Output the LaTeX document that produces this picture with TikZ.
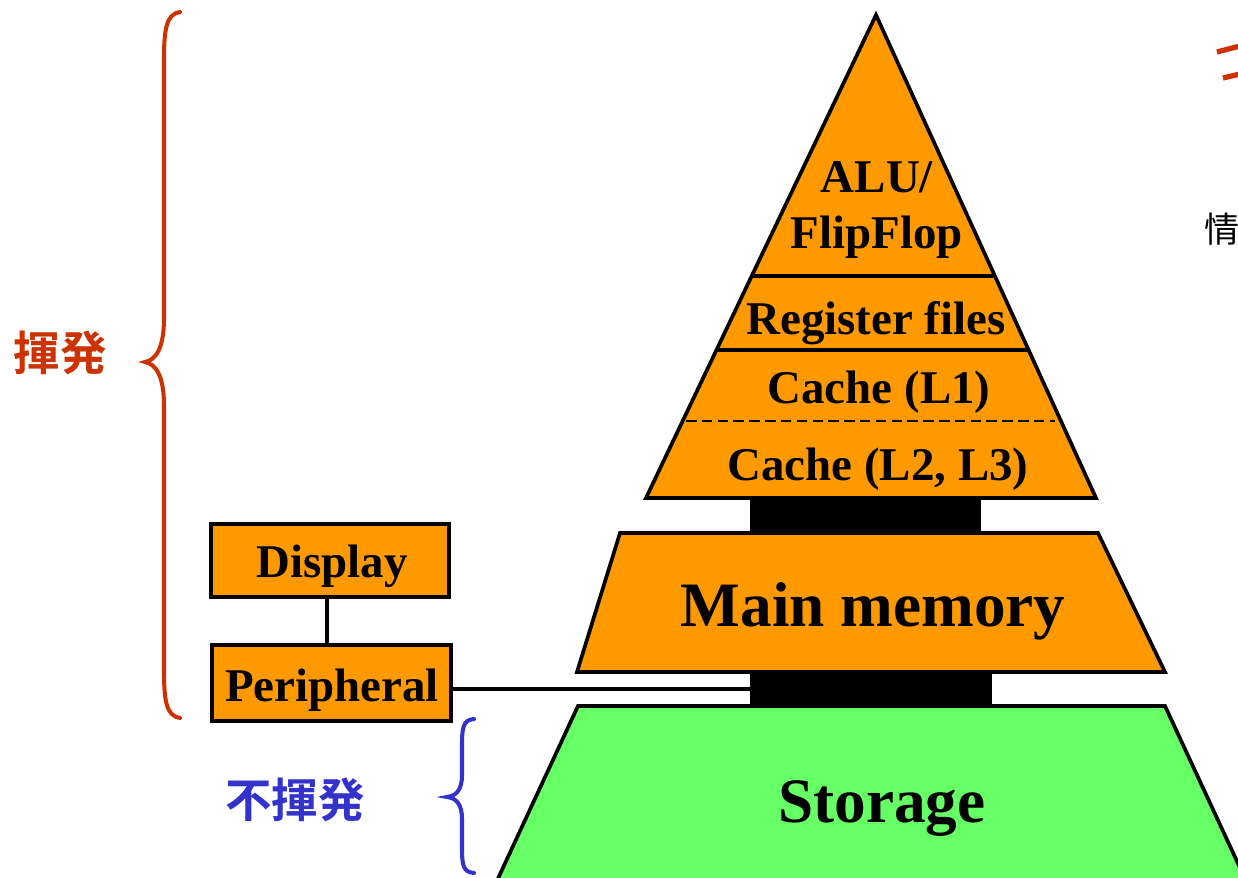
\documentclass[tikz,border=0pt]{standalone}
\usepackage{fontspec}
\setmainfont{Liberation Serif}
\newfontfamily\cjkb{Noto Sans CJK JP}
\newfontfamily\cjkbold{Noto Sans CJK JP Bold}
\definecolor{orng}{RGB}{255,153,0}
\definecolor{grn}{RGB}{102,255,102}
\definecolor{redb}{RGB}{204,51,0}
\definecolor{blub}{RGB}{51,51,204}
\tikzset{
  lay/.style={draw=black, line width=2.1pt, line join=miter},
  lbl/.style={font=\bfseries\fontsize{26.7}{32}\selectfont, inner sep=0pt, align=center},
  big/.style={font=\bfseries\fontsize{36}{40}\selectfont, inner sep=0pt},
  boxn/.style={draw=black, line width=2.1pt, fill=orng, inner sep=0pt},
  bus/.style={fill=black, draw=none, inner sep=0pt},
  link/.style={draw=black, line width=2.8pt},
  brc/.style={line width=2.3pt, line cap=round}
}
\begin{document}
\begin{tikzpicture}[x=0.02cm, y=-0.02cm]
\useasboundingbox (0,0) rectangle (1238,878);
\begin{scope}
\clip (0,0) rectangle (1238,878);
% buses
\node[bus, minimum width=231*0.02cm, minimum height=37*0.02cm] (bus1) at (865.5,515.5) {};
\node[bus, minimum width=242*0.02cm, minimum height=36*0.02cm] (bus2) at (871,689) {};
% pyramid
\path[lay, fill=orng] (876,15) -- (1096,498) -- (646,498) -- cycle;
\draw[lay] (752,276) -- (993,276);
\draw[lay] (718,350) -- (1028,350);
\draw[black, line width=1.3pt, dash pattern=on 6pt off 3pt] (686,421) -- (1055,421);
% main memory
\path[lay, fill=orng] (620,533) -- (1098,533) -- (1165,672) -- (577,672) -- cycle;
% storage
\path[lay, fill=grn] (578,706) -- (1165,706) -- (1248,885) -- (495,885) -- cycle;
% labels
\node[lbl] (alu) at (877,210) {ALU/\\FlipFlop};
\node[lbl] (reg) at (876,323) {Register files};
\node[lbl] (l1) at (879,392) {Cache (L1)};
\node[lbl] (l23) at (878,469) {Cache (L2, L3)};
\node[big] (mm) at (873,611) {Main memory};
\node[big] (st) at (882,809) {Storage};
% peripheral boxes
\node[boxn, minimum width=238*0.02cm, minimum height=73*0.02cm] (disp) at (330,560.5) {};
\node[lbl] (dispt) at (332,566) {Display};
\node[boxn, minimum width=239*0.02cm, minimum height=76*0.02cm] (peri) at (331.5,683) {};
\node[lbl] (perit) at (332,690) {Peripheral};
\coordinate (dj) at (327,0);
\draw[link] (dj |- disp.south) -- (dj |- peri.north);
\coordinate (pj) at (peri.east |- 0,689);
\draw[link] (pj) -- (pj -| bus2.west);
% braces
\draw[redb, brc] (180,12) .. controls (166,14) and (164,30) .. (164,60) -- (164,318)
  .. controls (164,348) and (156,360) .. (145,362)
  .. controls (156,364) and (164,376) .. (164,406) -- (164,670)
  .. controls (164,700) and (166,716) .. (180,718);
\draw[blub, brc] (474,719) .. controls (463,720) and (462,728) .. (462,745) -- (462,775)
  .. controls (462,790) and (456,796) .. (447,797)
  .. controls (456,798) and (462,804) .. (462,819) -- (462,848)
  .. controls (462,865) and (463,872) .. (474,873);
\node[text=redb, font=\cjkbold\fontsize{26.5}{28}\selectfont, inner sep=0pt] (v) at (60,353) {揮発};
\node[text=blub, font=\cjkbold\fontsize{26.5}{28}\selectfont, inner sep=0pt] (nv) at (295,800) {不揮発};
\node[font=\cjkb\fontsize{20}{22}\selectfont, inner sep=0pt, anchor=west] (jo) at (1204,229) {情};
% clipped red strokes at top right
\draw[redb, line width=3pt] (1217,52) -- (1240,46);
\draw[redb, line width=3pt] (1223,78) -- (1240,74);
\end{scope}
\end{tikzpicture}
\end{document}
